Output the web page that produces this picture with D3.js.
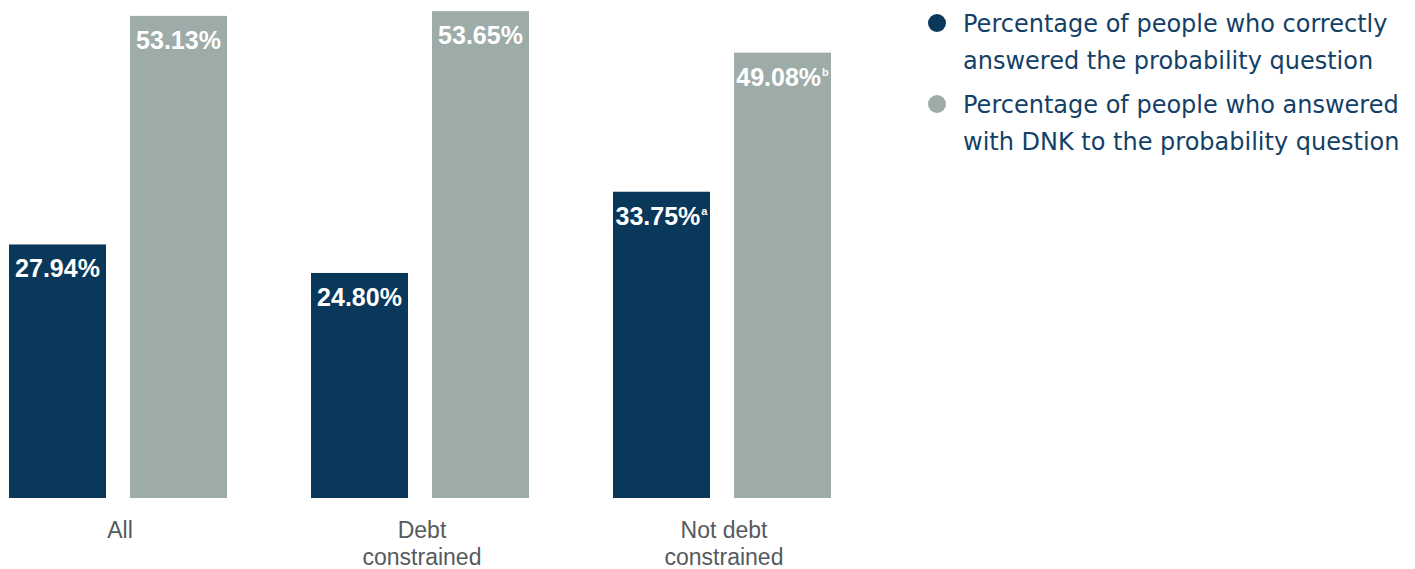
<!DOCTYPE html>
<html>
<head>
<meta charset="utf-8">
<script src="https://cdn.jsdelivr.net/npm/d3@7"></script>
<style>
  body { margin: 0; background: #fff; }
</style>
</head>
<body>
<div id="chart"></div>
<script>
var categories = [["All"], ["Debt", "constrained"], ["Not debt", "constrained"]];
var seriesNames = [
  ["Percentage of people who correctly", "answered the probability question"],
  ["Percentage of people who answered", "with DNK to the probability question"]
];
var correctValues = [27.94, 24.80, 33.75];
var dnkValues = [53.13, 53.65, 49.08];
var correctNotes = ["", "", "a"];
var dnkNotes = ["", "", "b"];

var W = 1415, H = 569,
    base = 498,
    colors = ["#0a385b", "#9eaca9"];

var svg = d3.select("#chart").append("svg")
    .attr("width", W)
    .attr("height", H);

// groups start at 9, 311, 613 (step 302, group width 218)
var x0 = d3.scaleBand()
    .domain(d3.range(categories.length))
    .range([9, 9 + 302 * 3 - 84])
    .paddingInner(84 / 302)
    .paddingOuter(0);

var x1 = d3.scaleBand()
    .domain([0, 1])
    .range([0, x0.bandwidth()])
    .paddingInner(24 / 121);

var y = d3.scaleLinear()
    .domain([0, 54.88])
    .range([base, 0]);

var bars = [];
categories.forEach(function(c, i) {
  bars.push({g: i, s: 0, v: correctValues[i], note: correctNotes[i]});
  bars.push({g: i, s: 1, v: dnkValues[i], note: dnkNotes[i]});
});

svg.selectAll(".bar")
  .data(bars)
  .enter().append("rect")
  .attr("class", "bar")
  .attr("x", function(d) { return x0(d.g) + x1(d.s); })
  .attr("y", function(d) { return y(d.v); })
  .attr("width", x1.bandwidth())
  .attr("height", function(d) { return base - y(d.v); })
  .style("fill", function(d) { return colors[d.s]; });

// value labels, centred in the bar (note included)
var labels = svg.selectAll(".vlabel")
  .data(bars)
  .enter().append("text")
  .attr("class", "vlabel")
  .attr("x", function(d) { return x0(d.g) + x1(d.s) + x1.bandwidth() / 2; })
  .attr("y", function(d) { return y(d.v) + 33; })
  .attr("text-anchor", "middle")
  .style("font", "bold 25px 'Liberation Sans', Arial, sans-serif")
  .style("fill", "#fff");

labels.append("tspan").text(function(d) { return d.v.toFixed(2) + "%"; });
labels.append("tspan")
  .attr("dy", -10)
  .attr("dx", 1)
  .style("font-size", "11px")
  .text(function(d) { return d.note; });

// category labels
var cat = svg.selectAll(".cat")
  .data(categories)
  .enter().append("text")
  .attr("class", "cat")
  .attr("x", function(d, i) { return x0(i) + x0.bandwidth() / 2 + 2; })
  .attr("y", 538)
  .attr("text-anchor", "middle")
  .style("font", "23px 'Liberation Sans', Arial, sans-serif")
  .style("fill", "#555a5c");

cat.selectAll("tspan")
  .data(function(d) { return d; })
  .enter().append("tspan")
  .attr("x", function() { return d3.select(this.parentNode).attr("x"); })
  .attr("dy", function(d, i) { return i ? 27 : 0; })
  .text(function(d) { return d; });

// legend
var legend = svg.selectAll(".legend")
  .data(seriesNames)
  .enter().append("g")
  .attr("class", "legend")
  .attr("transform", function(d, i) { return "translate(937," + (23 + i * 81) + ")"; });

legend.append("circle")
  .attr("r", 9)
  .style("fill", function(d, i) { return colors[i]; });

legend.append("text")
  .attr("x", 26)
  .attr("y", 9)
  .style("font", "24px 'DejaVu Sans', sans-serif")
  .style("fill", "#143f66")
  .selectAll("tspan")
  .data(function(d) { return d; })
  .enter().append("tspan")
  .attr("x", 26)
  .attr("dy", function(d, i) { return i ? 37 : 0; })
  .text(function(d) { return d; });
</script>
</body>
</html>
